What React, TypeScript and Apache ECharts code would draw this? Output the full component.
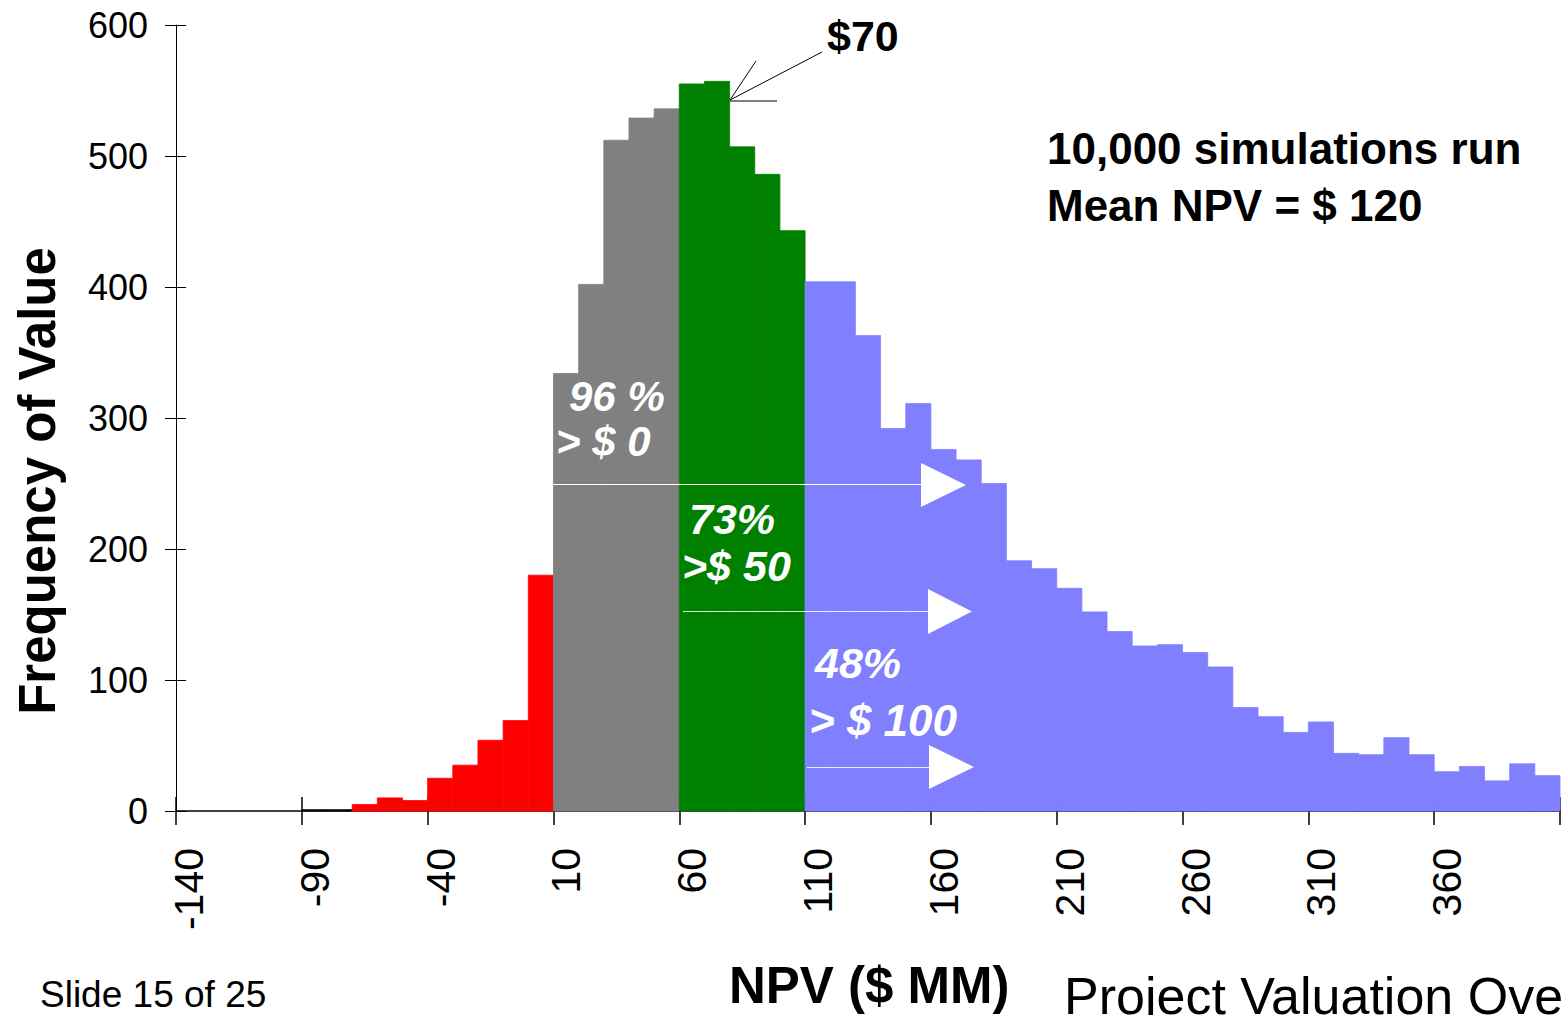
import React, { useEffect, useRef } from "react";
import * as echarts from "echarts";

// ---------- data ----------
const BIN_LOWS = [
  -140, -130, -120, -110, -100, -90, -80, -70, -60, -50, -40, -30, -20, -10, 0,
  10, 20, 30, 40, 50, 60, 70, 80, 90, 100, 110, 120, 130, 140, 150, 160, 170,
  180, 190, 200, 210, 220, 230, 240, 250, 260, 270, 280, 290, 300, 310, 320,
  330, 340, 350, 360, 370, 380, 390, 400,
];
const FREQUENCIES = [
  0, 0, 0, 0, 0, 1, 1, 5, 10, 8, 25, 35, 54, 69, 180,
  334, 402, 512, 529, 536, 555, 557, 507, 486, 443, 404, 404, 363, 292, 311, 276, 268,
  250, 191, 185, 170, 152, 137, 126, 127, 121, 110, 79, 72, 60, 68, 44,
  43, 56, 43, 30, 34, 23, 36, 27,
];
const BIN_WIDTH = 10;
const AXIS_MIN = -140;
const AXIS_MAX = 410;
const X_TICK_STEP = 50;
const X_TICK_LABELS = ["-140", "-90", "-40", "10", "60", "110", "160", "210", "260", "310", "360"];
const Y_MIN = 0;
const Y_MAX = 600;
const Y_TICK_STEP = 100;
// colour segments (inclusive bin-low ranges)
const SEGMENTS = [
  { from: -90, to: -80, color: "#000000" },
  { from: -70, to: 0, color: "#FF0000" },
  { from: 10, to: 50, color: "#808080" },
  { from: 60, to: 100, color: "#008000" },
  { from: 110, to: 400, color: "#8080FF" },
];

const FONT = "'Liberation Sans', Arial, Helvetica, sans-serif";

function colorFor(low: number): string {
  for (const s of SEGMENTS) if (low >= s.from && low <= s.to) return s.color;
  return "#000000";
}

export default function App() {
  const ref = useRef<HTMLDivElement>(null);
  useEffect(() => {
    if (!ref.current) return;
    const chart = echarts.init(ref.current, null, { renderer: "svg" });
    const span = AXIS_MAX - AXIS_MIN;
    const data = BIN_LOWS.map((b, i) => [b - AXIS_MIN, FREQUENCIES[i]]);
    const xLabel = (v: number) => {
      const idx = Math.round(v / X_TICK_STEP);
      return X_TICK_LABELS[idx] ?? "";
    };
    const white = "#FFFFFF";
    const txt = (
      text: string,
      x: number,
      y: number,
      size: number,
      opts: any = {}
    ) => ({
      type: "text",
      x,
      y,
      z: 100,
      rotation: opts.rotation ?? 0,
      style: {
        text,
        fill: opts.fill ?? "#000000",
        font: `${opts.italic ? "italic " : ""}${opts.bold ? "bold " : ""}${size}px ${FONT}`,
        lineHeight: Math.round(size * 0.85),
        textAlign: opts.align ?? "left",
        textVerticalAlign: "middle",
        verticalAlign: "middle",
      },
    });
    const line = (x1: number, y1: number, x2: number, y2: number, stroke: string, opacity = 1) => ({
      type: "line",
      z: 100,
      shape: { x1, y1, x2, y2 },
      style: { stroke, lineWidth: 1, opacity },
    });
    const tri = (x: number, yTop: number, yBot: number, tipX: number) => ({
      type: "polygon",
      z: 100,
      shape: { points: [[x, yTop], [x, yBot], [tipX, (yTop + yBot) / 2]] },
      style: { fill: white },
    });

    chart.setOption({
      animation: false,
      backgroundColor: "#FFFFFF",
      grid: { left: 176, right: 4, top: 25, bottom: 204 },
      xAxis: [
        {
          type: "value",
          position: "bottom",
          min: 0,
          max: span,
          interval: X_TICK_STEP,
          splitLine: { show: false },
          axisLine: { show: true, onZero: false, lineStyle: { color: "#000", width: 1.5 } },
          axisTick: { show: true, inside: false, length: 14, lineStyle: { color: "#000", width: 1.5 } },
          axisLabel: {
            show: true,
            rotate: 90,
            margin: 37,
            fontSize: 41,
            fontFamily: FONT,
            color: "#000",
            verticalAlign: "top",
            lineHeight: 26,
            formatter: xLabel,
            showMaxLabel: true,
            showMinLabel: true,
          },
        },
        {
          type: "value",
          position: "bottom",
          min: 0,
          max: span,
          interval: X_TICK_STEP,
          splitLine: { show: false },
          axisLine: { show: false },
          axisTick: { show: true, inside: true, length: 14, lineStyle: { color: "#000", width: 1.5 } },
          axisLabel: { show: false },
        },
      ],
      yAxis: [
        {
          type: "value",
          position: "left",
          min: Y_MIN,
          max: Y_MAX,
          interval: Y_TICK_STEP,
          splitLine: { show: false },
          axisLine: { show: true, lineStyle: { color: "#000", width: 1 } },
          axisTick: { show: true, inside: false, length: 11, lineStyle: { color: "#000", width: 1 } },
          axisLabel: { margin: 28, fontSize: 36, fontFamily: FONT, color: "#000" },
        },
        {
          type: "value",
          position: "left",
          min: Y_MIN,
          max: Y_MAX,
          interval: Y_TICK_STEP,
          splitLine: { show: false },
          axisLine: { show: false },
          axisTick: { show: true, inside: true, length: 10, lineStyle: { color: "#000", width: 1 } },
          axisLabel: { show: false },
        },
      ],
      series: [
        {
          type: "custom",
          xAxisIndex: 0,
          yAxisIndex: 0,
          data,
          renderItem: (params: any, api: any) => {
            const x0 = api.value(0);
            const v = api.value(1);
            if (!v) return null;
            const p0 = api.coord([x0, 0]);
            const p1 = api.coord([x0 + BIN_WIDTH, v]);
            const c = colorFor(BIN_LOWS[params.dataIndex]);
            return {
              type: "rect",
              shape: {
                x: p0[0],
                y: p1[1],
                width: p1[0] - p0[0],
                height: p0[1] - p1[1],
              },
              style: { fill: c, stroke: c, lineWidth: 0.8 },
            };
          },
        },
      ],
      graphic: [
        // $70 callout
        txt("$70", 827, 36, 43, { bold: true }),
        line(822, 52, 730, 100, "#000"),
        line(756, 61, 730, 100, "#000"),
        line(730, 101, 777, 101, "#000"),
        // summary
        txt("10,000 simulations run", 1047, 148, 44, { bold: true }),
        txt("Mean NPV = $ 120", 1047, 205, 44, { bold: true }),
        // probability annotations
        txt("96 %", 569, 396, 42, { bold: true, italic: true, fill: white }),
        txt("> $ 0", 556, 441, 42, { bold: true, italic: true, fill: white }),
        line(553, 484.5, 921, 484.5, white),
        tri(921, 463, 507, 966),
        txt("73%", 689, 519, 43, { bold: true, italic: true, fill: white }),
        txt(">$ 50", 682, 566, 43, { bold: true, italic: true, fill: white }),
        line(683, 611.5, 928, 611.5, white, 0.85),
        tri(928, 589, 634, 972),
        txt("48%", 815, 663, 43, { bold: true, italic: true, fill: white }),
        txt("> $ 100", 809, 720, 44, { bold: true, italic: true, fill: white }),
        line(807, 767.5, 929, 767.5, white, 0.85),
        tri(929, 745, 789, 974),
        // axis titles
        txt("Frequency of Value", 37, 481, 51, { bold: true, align: "center", rotation: Math.PI / 2 }),
        txt("NPV ($ MM)", 729, 985, 51, { bold: true }),
        // footer
        txt("Slide 15 of 25", 40, 994, 37),
        txt("Project Valuation Overview", 1064, 996, 52),
      ],
    });
    return () => chart.dispose();
  }, []);
  return (
    <div
      ref={ref}
      style={{ position: "absolute", left: 0, top: 0, width: 1564, height: 1015 }}
    />
  );
}
